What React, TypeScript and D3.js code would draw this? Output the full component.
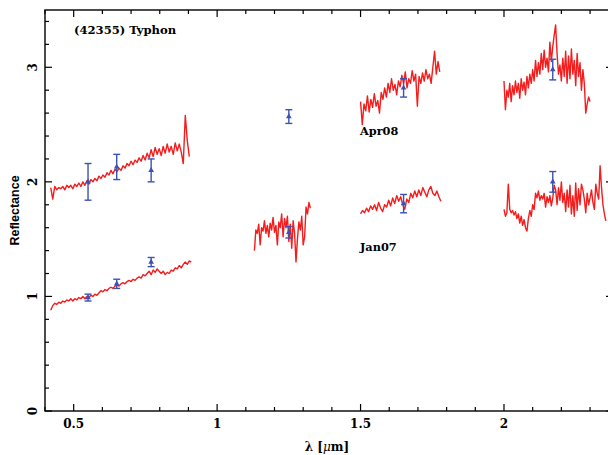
// reflectance spectrum of (42355) Typhon, two epochs (Apr08 offset by +1)

// react
import React, {useRef, useEffect} from 'react';

// modules
import * as d3 from 'd3';

// axis setup
const xDomain = [0.4, 2.38];
const yDomain = [0, 3.5];
const xTickVals = [0.5, 1, 1.5, 2];
const xTickLabels = ['0.5', '1', '1.5', '2'];
const yTickVals = [0, 1, 2, 3];
const yTickLabels = ['0', '1', '2', '3'];

// Jan07 spectrum segments (start wavelength, step, reflectance)
const jan07VisStart = 0.42, jan07VisStep = 0.007;
const jan07VisVals = [0.88, 0.92, 0.94, 0.93, 0.95, 0.94, 0.96, 0.95, 0.97, 0.96, 0.98, 0.96, 0.98, 0.97, 0.99, 0.98,
    1.00, 0.98, 1.00, 0.99, 1.01, 1.00, 1.02, 1.01, 1.03, 1.05, 1.04, 1.06, 1.05, 1.07, 1.08, 1.07, 1.09, 1.10, 1.09,
    1.11, 1.12, 1.11, 1.13, 1.14, 1.13, 1.15, 1.14, 1.16, 1.17, 1.16, 1.19, 1.18, 1.20, 1.22, 1.19, 1.23, 1.21, 1.24,
    1.22, 1.20, 1.22, 1.19, 1.21, 1.20, 1.23, 1.22, 1.25, 1.24, 1.27, 1.25, 1.28, 1.30, 1.28, 1.31, 1.30];
const jan07JStart = 1.13, jan07JStep = 0.005;
const jan07JVals = [1.40, 1.58, 1.55, 1.63, 1.45, 1.60, 1.57, 1.66, 1.55, 1.62, 1.52, 1.64, 1.58, 1.69, 1.56, 1.62,
    1.45, 1.65, 1.60, 1.72, 1.52, 1.68, 1.60, 1.70, 1.48, 1.63, 1.42, 1.66, 1.55, 1.30, 1.50, 1.65, 1.58, 1.70, 1.45,
    1.52, 1.78, 1.72, 1.82, 1.77];
const jan07HStart = 1.5, jan07HStep = 0.007;
const jan07HVals = [1.72, 1.75, 1.73, 1.77, 1.74, 1.79, 1.76, 1.80, 1.75, 1.82, 1.77, 1.74, 1.80, 1.78, 1.84, 1.79,
    1.86, 1.81, 1.88, 1.83, 1.87, 1.80, 1.76, 1.85, 1.82, 1.90, 1.86, 1.92, 1.87, 1.93, 1.88, 1.95, 1.91, 1.87, 1.93,
    1.96, 1.90, 1.88, 1.92, 1.87, 1.83];
const jan07KStart = 2.0, jan07KStep = 0.005;
const jan07KVals = [1.76, 1.70, 1.73, 1.98, 1.76, 1.73, 1.75, 1.71, 1.74, 1.68, 1.72, 1.64, 1.70, 1.62, 1.67, 1.60,
    1.57, 1.68, 1.75, 1.70, 1.80, 1.76, 1.90, 1.86, 1.92, 1.84, 1.88, 1.85, 1.90, 1.78, 1.87, 1.82, 1.88, 1.79, 1.86,
    1.97, 1.93, 1.80, 1.95, 1.84, 2.00, 1.82, 1.90, 1.74, 1.93, 1.78, 1.97, 1.72, 1.88, 1.70, 1.99, 1.75, 1.94, 1.80,
    1.98, 1.93, 1.85, 1.73, 1.90, 1.80, 1.86, 1.93, 1.82, 1.76, 1.98, 1.90, 1.85, 2.14, 1.95, 1.80, 1.72, 1.66];

// Apr08 spectrum segments
const apr08VisStart = 0.42, apr08VisStep = 0.007;
const apr08VisVals = [1.95, 1.85, 1.96, 1.93, 1.95, 1.94, 1.96, 1.93, 1.97, 1.95, 1.97, 1.94, 1.98, 1.96, 1.99, 1.96,
    2.00, 1.97, 2.01, 1.98, 2.02, 2.00, 2.03, 2.01, 2.05, 2.03, 2.06, 2.04, 2.08, 2.06, 2.10, 2.07, 2.11, 2.09, 2.12,
    2.10, 2.14, 2.12, 2.16, 2.14, 2.18, 2.15, 2.19, 2.17, 2.21, 2.18, 2.23, 2.19, 2.25, 2.21, 2.28, 2.22, 2.30, 2.24,
    2.29, 2.23, 2.31, 2.25, 2.33, 2.26, 2.31, 2.24, 2.34, 2.27, 2.33, 2.26, 2.16, 2.58, 2.36, 2.22];
const apr08HStart = 1.5, apr08HStep = 0.006;
const apr08HVals = [2.70, 2.50, 2.68, 2.62, 2.75, 2.61, 2.72, 2.65, 2.77, 2.66, 2.71, 2.60, 2.78, 2.72, 2.82, 2.74,
    2.86, 2.78, 2.90, 2.80, 2.85, 2.76, 2.88, 2.83, 2.93, 2.86, 2.96, 2.82, 2.90, 2.86, 2.97, 2.88, 2.94, 2.66, 2.92,
    2.86, 2.95, 2.88, 2.98, 2.90, 2.94, 2.86, 3.00, 3.14, 2.94, 3.05, 2.96];
const apr08KStart = 2.0, apr08KStep = 0.005;
const apr08KVals = [2.88, 2.63, 2.80, 2.74, 2.86, 2.70, 2.84, 2.76, 2.88, 2.78, 2.86, 2.73, 2.90, 2.80, 2.87, 2.76,
    2.92, 2.82, 2.94, 2.86, 2.98, 2.88, 3.06, 2.92, 3.04, 2.94, 3.12, 2.98, 3.15, 3.00, 3.08, 2.96, 3.22, 3.05, 3.18,
    3.28, 3.37, 3.12, 2.94, 3.02, 2.88, 3.08, 2.92, 3.14, 2.86, 3.10, 2.90, 3.16, 2.94, 3.06, 2.84, 3.12, 2.92, 3.04,
    2.80, 2.98, 2.86, 2.60, 2.68, 2.74, 2.70];

// photometry points with error bars
const photWave = [0.55, 0.65, 0.77, 1.25, 1.65, 2.17];
const jan07Phot = [0.99, 1.11, 1.30, 1.56, 1.81, 2.00];
const jan07Err = [0.03, 0.04, 0.04, 0.05, 0.08, 0.09];
const apr08Phot = [2.00, 2.13, 2.10, 2.57, 2.82, 2.98];
const apr08Err = [0.16, 0.11, 0.10, 0.06, 0.08, 0.09];

const svgWidth = 608;
const svgHeight = 455;
const margin = {left: 45, right: 613, top: 10, bottom: 411};
const red = '#f41c1c';
const blue = '#3a52b4';
const serif = '"DejaVu Serif", serif';

const toPoints = (start, step, vals) => vals.map((v, i) => [start + i * step, v]);

export default function App() {
    const ref = useRef(null);

    useEffect(() => {
        document.body.style.margin = '0';
        const svg = d3.select(ref.current);
        svg.selectAll('*').remove();

        const x = d3.scaleLinear().domain(xDomain).range([margin.left, margin.right]);
        const y = d3.scaleLinear().domain(yDomain).range([margin.bottom, margin.top]);

        svg.append('clipPath').attr('id', 'plotClip')
            .append('rect')
            .attr('x', margin.left).attr('y', margin.top)
            .attr('width', margin.right - margin.left).attr('height', margin.bottom - margin.top);

        // spectra
        const segments = [
            toPoints(jan07VisStart, jan07VisStep, jan07VisVals),
            toPoints(jan07JStart, jan07JStep, jan07JVals),
            toPoints(jan07HStart, jan07HStep, jan07HVals),
            toPoints(jan07KStart, jan07KStep, jan07KVals),
            toPoints(apr08VisStart, apr08VisStep, apr08VisVals),
            toPoints(apr08HStart, apr08HStep, apr08HVals),
            toPoints(apr08KStart, apr08KStep, apr08KVals),
        ];
        const line = d3.line().x((d) => x(d[0])).y((d) => y(d[1]));
        svg.append('g').attr('clip-path', 'url(#plotClip)')
            .selectAll('path')
            .data(segments)
            .enter()
            .append('path')
            .attr('d', line)
            .attr('fill', 'none')
            .attr('stroke', red)
            .attr('stroke-width', 1.4)
            .attr('stroke-linejoin', 'round');

        // error bars
        const phot = [
            ...photWave.map((w, i) => ({w, v: jan07Phot[i], e: jan07Err[i]})),
            ...photWave.map((w, i) => ({w, v: apr08Phot[i], e: apr08Err[i]})),
        ];
        const eg = svg.append('g').attr('stroke', blue).attr('stroke-width', 1.4).attr('fill', blue);
        phot.forEach((d) => {
            const cx = x(d.w);
            const y0 = y(d.v - d.e), y1 = y(d.v + d.e);
            eg.append('line').attr('x1', cx).attr('x2', cx).attr('y1', y0).attr('y2', y1);
            eg.append('line').attr('x1', cx - 3.5).attr('x2', cx + 3.5).attr('y1', y0).attr('y2', y0);
            eg.append('line').attr('x1', cx - 3.5).attr('x2', cx + 3.5).attr('y1', y1).attr('y2', y1);
            eg.append('path')
                .attr('d', d3.symbol().type(d3.symbolTriangle).size(14)())
                .attr('transform', `translate(${cx},${y(d.v)})`)
                .attr('stroke', 'none');
        });

        // frame
        svg.append('rect')
            .attr('x', margin.left).attr('y', margin.top)
            .attr('width', margin.right - margin.left).attr('height', margin.bottom - margin.top)
            .attr('fill', 'none').attr('stroke', '#000').attr('stroke-width', 1.4);

        // ticks
        const tg = svg.append('g').attr('stroke', '#000').attr('stroke-width', 1.2);
        x.ticks(20).forEach((t) => {
            const major = xTickVals.some((m) => Math.abs(m - t) < 1e-6);
            const len = major ? 7 : 4;
            tg.append('line').attr('x1', x(t)).attr('x2', x(t)).attr('y1', margin.bottom).attr('y2', margin.bottom - len);
            tg.append('line').attr('x1', x(t)).attr('x2', x(t)).attr('y1', margin.top).attr('y2', margin.top + len);
        });
        y.ticks(17).forEach((t) => {
            const major = yTickVals.some((m) => Math.abs(m - t) < 1e-6);
            const len = major ? 7 : 4;
            tg.append('line').attr('x1', margin.left).attr('x2', margin.left + len).attr('y1', y(t)).attr('y2', y(t));
            tg.append('line').attr('x1', margin.right).attr('x2', margin.right - len).attr('y1', y(t)).attr('y2', y(t));
        });

        // tick labels
        svg.append('g').selectAll('text')
            .data(xTickVals)
            .enter()
            .append('text')
            .attr('x', (d) => x(d))
            .attr('y', 428)
            .attr('text-anchor', 'middle')
            .attr('font-family', serif).attr('font-weight', 'bold').attr('font-size', 12)
            .text((d, i) => xTickLabels[i]);
        svg.append('g').selectAll('text')
            .data(yTickVals)
            .enter()
            .append('text')
            .attr('transform', (d) => `translate(37,${y(d)}) rotate(-90)`)
            .attr('text-anchor', 'middle')
            .attr('font-family', serif).attr('font-weight', 'bold').attr('font-size', 12)
            .text((d, i) => yTickLabels[i]);

        // axis titles
        svg.append('text')
            .attr('transform', `translate(19,${(margin.top + margin.bottom) / 2}) rotate(-90)`)
            .attr('text-anchor', 'middle')
            .attr('font-family', '"Liberation Sans", Arial, sans-serif').attr('font-weight', 'bold').attr('font-size', 12.5)
            .text('Reflectance');
        const xt = svg.append('text')
            .attr('x', 327).attr('y', 451)
            .attr('text-anchor', 'middle')
            .attr('font-family', serif).attr('font-weight', 'bold').attr('font-size', 12);
        xt.append('tspan').text('λ [');
        xt.append('tspan').attr('font-style', 'italic').attr('font-weight', 'normal').text('μ');
        xt.append('tspan').text('m]');

        // annotations
        const note = (tx, ty, str, fs) => svg.append('text')
            .attr('x', tx).attr('y', ty)
            .attr('font-family', serif).attr('font-weight', 'bold').attr('font-size', fs)
            .text(str);
        note(74, 34, '(42355) Typhon', 11.6);
        note(360, 135, 'Apr08', 11.3);
        note(360, 251, 'Jan07', 11.3);
    }, []);

    return (
        <svg ref={ref} width={svgWidth} height={svgHeight} style={{display: 'block', background: '#fff'}}></svg>
    );
}
